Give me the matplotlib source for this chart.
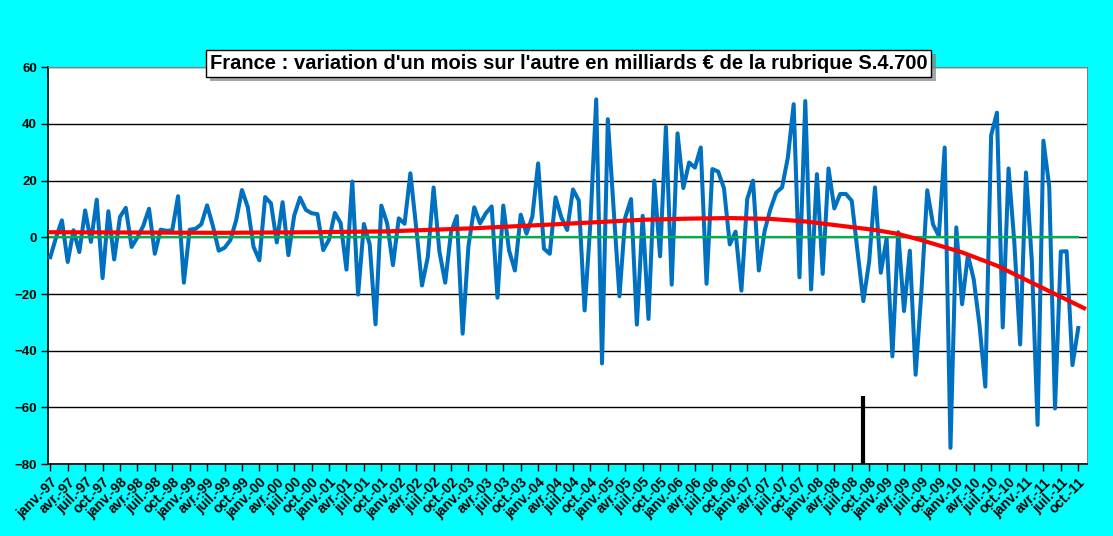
import numpy as np
import matplotlib.pyplot as plt
from matplotlib import patheffects


# Monthly data, janv.-97 .. oct.-11 (milliards €)
variation = [
    -7, 0, 6, -8.7, 2.5, -5.2, 9.5, -1.6, 13.3, -14.4, 9.2, -7.8,
    7.2, 10.4, -3.4, 0, 4, 10.1, -5.8, 2.7, 2.3, 2.5, 14.5, -16,
    2.7, 3.0, 4.6, 11.3, 4, -4.7, -3.7, -1, 6, 16.7, 10.7, -3.4,
    -8.1, 14.2, 12, -1.8, 12.4, -6.3, 7.7, 14, 9.7, 8.5, 8.2, -4.5,
    -0.8, 8.6, 5, -11.4, 19.7, -20.2, 4.7, -2.5, -30.7, 11.2, 5, -9.8,
    6.7, 4.8, 22.6, 3.5, -17, -7, 17.6, -5, -16, 1.8, 7.5, -34,
    -3.1, 10.6, 4.9, 8.5, 10.9, -21.3, 11.2, -4.7, -11.7, 8, 1.3, 7.3,
    26.1, -4, -5.8, 14.1, 7, 2.6, 16.9, 13, -25.8, 5, 48.7, -44.5,
    41.7, 10, -20.8, 7, 13.5, -30.8, 7.6, -28.8, 20, -6.7, 39, -16.7,
    36.7, 17.4, 26.4, 24.6, 31.7, -16.4, 24.1, 23.2, 17.3, -2.5, 2, -18.8,
    13.5, 20, -11.7, 2.3, 10, 15.8, 17.6, 28.2, 47, -14.1, 48.1, -18.4,
    22.3, -12.9, 24.3, 10.2, 15.3, 15.3, 12.9, -5, -22.5, -8.5, 17.6, -12.5,
    -0.5, -42, 1.8, -26, -4.7, -48.5, -19, 16.6, 4.5, 0.5, 31.7, -74.3,
    3.5, -23.6, -6.2, -14.8, -31, -52.7, 36, 44, -31.8, 24.3, -2, -37.8,
    22.9, -8, -66.2, 34.1, 18, -60.4, -5, -4.9, -45.1, -32,
]

# red trend curve (month index, value)
trend_month = [0, 15, 30, 45, 58, 73, 88, 102, 110, 117, 124, 130,
               136, 142, 146, 150, 157, 163, 168, 173, 178]
trend_value = [1.8, 1.7, 1.6, 1.8, 2.1, 3.2, 4.7, 6.2, 6.6, 6.8, 6.5, 5.6,
               4.1, 2.6, 1.2, -1.0, -5.3, -10.0, -15.0, -20.0, -25.0]

quarter_names = ["janv.", "avr.", "juil.", "oct."]
years = list(range(1997, 2012))
tick_labels = [f"{q}-{y % 100:02d}" for y in years for q in quarter_names]

crisis_month = 140      # sept.-08 marker
crisis_bar = (-80, -56)

title = "France : variation d'un mois sur l'autre en milliards € de la rubrique S.4.700"

CYAN = "#00FFFF"
BLUE = "#0070C0"
GREEN = "#00B050"


def main():
    plt.rcParams["font.family"] = ["Liberation Sans", "DejaVu Sans"]

    x = np.arange(len(variation))

    fig = plt.figure(figsize=(11.13, 5.36), dpi=100)
    fig.patch.set_facecolor(CYAN)
    ax = fig.add_axes([0.0431, 0.1343, 0.9335, 0.7401])
    ax.set_facecolor("white")

    ax.plot(x, variation, color=BLUE, lw=2.9, zorder=3)
    ax.plot(x, np.zeros(len(x)), color=GREEN, lw=1.6, zorder=4)
    ax.plot(trend_month, trend_value, color="red", lw=3.0, zorder=5)
    ax.vlines(crisis_month, crisis_bar[0], crisis_bar[1], color="black", lw=3, zorder=6)

    ax.set_ylim(-80, 60)
    ax.set_yticks(range(-80, 61, 20))
    ax.set_xlim(-0.4, 178.5)
    ax.set_xticks(range(0, 3 * len(tick_labels), 3))
    ax.set_xticklabels(tick_labels, rotation=45, ha="right", rotation_mode="anchor",
                       fontsize=10, fontweight="bold")
    for lab in ax.get_yticklabels():
        lab.set_fontweight("bold")
        lab.set_fontsize(9.5)

    ax.yaxis.grid(True, color="black", lw=1)
    ax.set_axisbelow(True)
    ax.tick_params(direction="out", length=5, width=1, color="black", pad=3)

    for side in ("top", "right"):
        ax.spines[side].set_color("#808080")
    for side in ("left", "bottom"):
        ax.spines[side].set_color("black")
        ax.spines[side].set_linewidth(1.2)

    t = fig.text(0.5108, 0.8815, title, ha="center", va="center", fontsize=14.5,
                 fontweight="bold", zorder=10,
                 bbox=dict(boxstyle="square,pad=0.2", fc="white", ec="black", lw=1))
    t.get_bbox_patch().set_path_effects(
        [patheffects.withSimplePatchShadow(offset=(3, -3), shadow_rgbFace="gray", alpha=0.7)])

    fig.savefig("out.png", dpi=100, facecolor=CYAN)


if __name__ == "__main__":
    main()
